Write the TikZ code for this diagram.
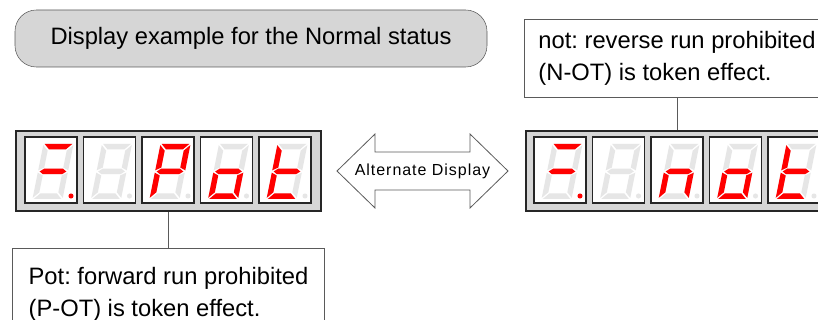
\documentclass[tikz,border=0pt]{standalone}
\usepackage{fontspec}
\setmainfont{Liberation Sans}
\usetikzlibrary{positioning}
\definecolor{seg-off}{RGB}{230,230,230}
\definecolor{seg-on}{RGB}{255,0,0}
\definecolor{panel-gris}{RGB}{214,214,214}
\definecolor{vora}{RGB}{90,90,90}

% segments of one digit, local coordinates (y down)
\def\segA{(-13.8,-27.5) -- (13.8,-27.5) -- (8.3,-22) -- (-8.3,-22) -- cycle}
\def\segB{(15,-26.3) -- (15,-1.2) -- (9.5,-3.95) -- (9.5,-20.8) -- cycle}
\def\segC{(15,26.3) -- (15,1.2) -- (9.5,3.95) -- (9.5,20.8) -- cycle}
\def\segD{(-13.8,27.5) -- (13.8,27.5) -- (8.3,22) -- (-8.3,22) -- cycle}
\def\segE{(-15,26.3) -- (-15,1.2) -- (-9.5,3.95) -- (-9.5,20.8) -- cycle}
\def\segF{(-15,-26.3) -- (-15,-1.2) -- (-9.5,-3.95) -- (-9.5,-20.8) -- cycle}
\def\segG{(-13.3,0) -- (-9.5,-2.75) -- (9.5,-2.75) -- (13.3,0) -- (9.5,2.75) -- (-9.5,2.75) -- cycle}
\def\segX{(0,0)}

% one digit: name, left x, lit segments, dot colour
\newcommand\digito[4]{%
  \node[digbox] (#1) at (#2+26,170) {};
  \begin{scope}[shift={(#1.center)}, shift={(2,1.5)}, xslant=0.2]
    \foreach \s in {A,B,C,D,E,F,G}{
      \expandafter\let\expandafter\segp\csname seg\s\endcsname
      \fill[seg-off] \segp;}
    \foreach \s in {#3}{
      \expandafter\let\expandafter\segp\csname seg\s\endcsname
      \fill[seg-on] \segp;}
  \end{scope}
  \fill[#4] (#1.center) ++(20,26) circle[radius=1.9pt];
}

\begin{document}
\frenchspacing
\begin{tikzpicture}[x=0.75pt, y=-0.75pt,
    titol/.style={draw=vora, fill=panel-gris, rounded corners=16pt, minimum width=354pt,
      minimum height=42.75pt, font=\fontsize{17.8}{21}\selectfont},
    marc/.style={draw=black!85, line width=1.9pt, fill=panel-gris, minimum height=60pt, inner sep=0pt},
    digbox/.style={draw=black!85, line width=1.1pt, fill=white, minimum width=39pt,
      minimum height=49.5pt, inner sep=0pt},
    nota/.style={draw=vora, fill=white, align=left, inner xsep=9pt,
      font=\fontsize{17.8}{24}\selectfont},
    fletxa/.style={draw=vora, fill=white, line width=0.6pt}]
  \useasboundingbox (0,0) rectangle (818,320);
  \clip (0,0) rectangle (818,320);

  \node[titol] (titol) at (251,38.5) {Display example for the Normal status};

  % left display: Pot
  \node[marc, minimum width=228.75pt] (lframe) at (168.5,171) {};
  \digito{l1}{25}{A,G}{seg-on}
  \digito{l2}{83.5}{X}{seg-off}
  \digito{l3}{142}{A,B,F,G,E}{seg-off}
  \digito{l4}{200.5}{G,C,D,E}{seg-off}
  \digito{l5}{259}{F,E,G,D}{seg-off}

  % right display: not
  \node[marc, minimum width=226.5pt] (rframe) at (677,171) {};
  \digito{r1}{534}{A,G}{seg-on}
  \digito{r2}{592.5}{X}{seg-off}
  \digito{r3}{651}{G,E,C}{seg-off}
  \digito{r4}{709.5}{G,C,D,E}{seg-off}
  \digito{r5}{768}{F,E,G,D}{seg-off}

  \draw[fletxa] (337,171) -- (375,134) -- (375,152) -- (470,152) -- (470,134) -- (508,171)
    -- (470,208) -- (470,190) -- (375,190) -- (375,208) -- cycle;
  \node[font=\fontsize{12}{14}\selectfont\addfontfeatures{LetterSpace=6}] (alterna) at (422.5,171) {Alternate Display};

  \node[nota, below=27pt of lframe, minimum width=234pt, minimum height=69pt] (pnota)
    {Pot: forward run prohibited\\(P-OT) is token effect.};
  \node[nota, above=24pt of rframe, minimum width=229.5pt, minimum height=58.5pt] (nnota)
    {not: reverse run prohibited\\(N-OT) is token effect.};

  \draw[vora, line width=0.75pt] (lframe.south) -- (pnota.north);
  \draw[vora, line width=0.75pt] (nnota.south) -- (rframe.north);
\end{tikzpicture}
\end{document}
